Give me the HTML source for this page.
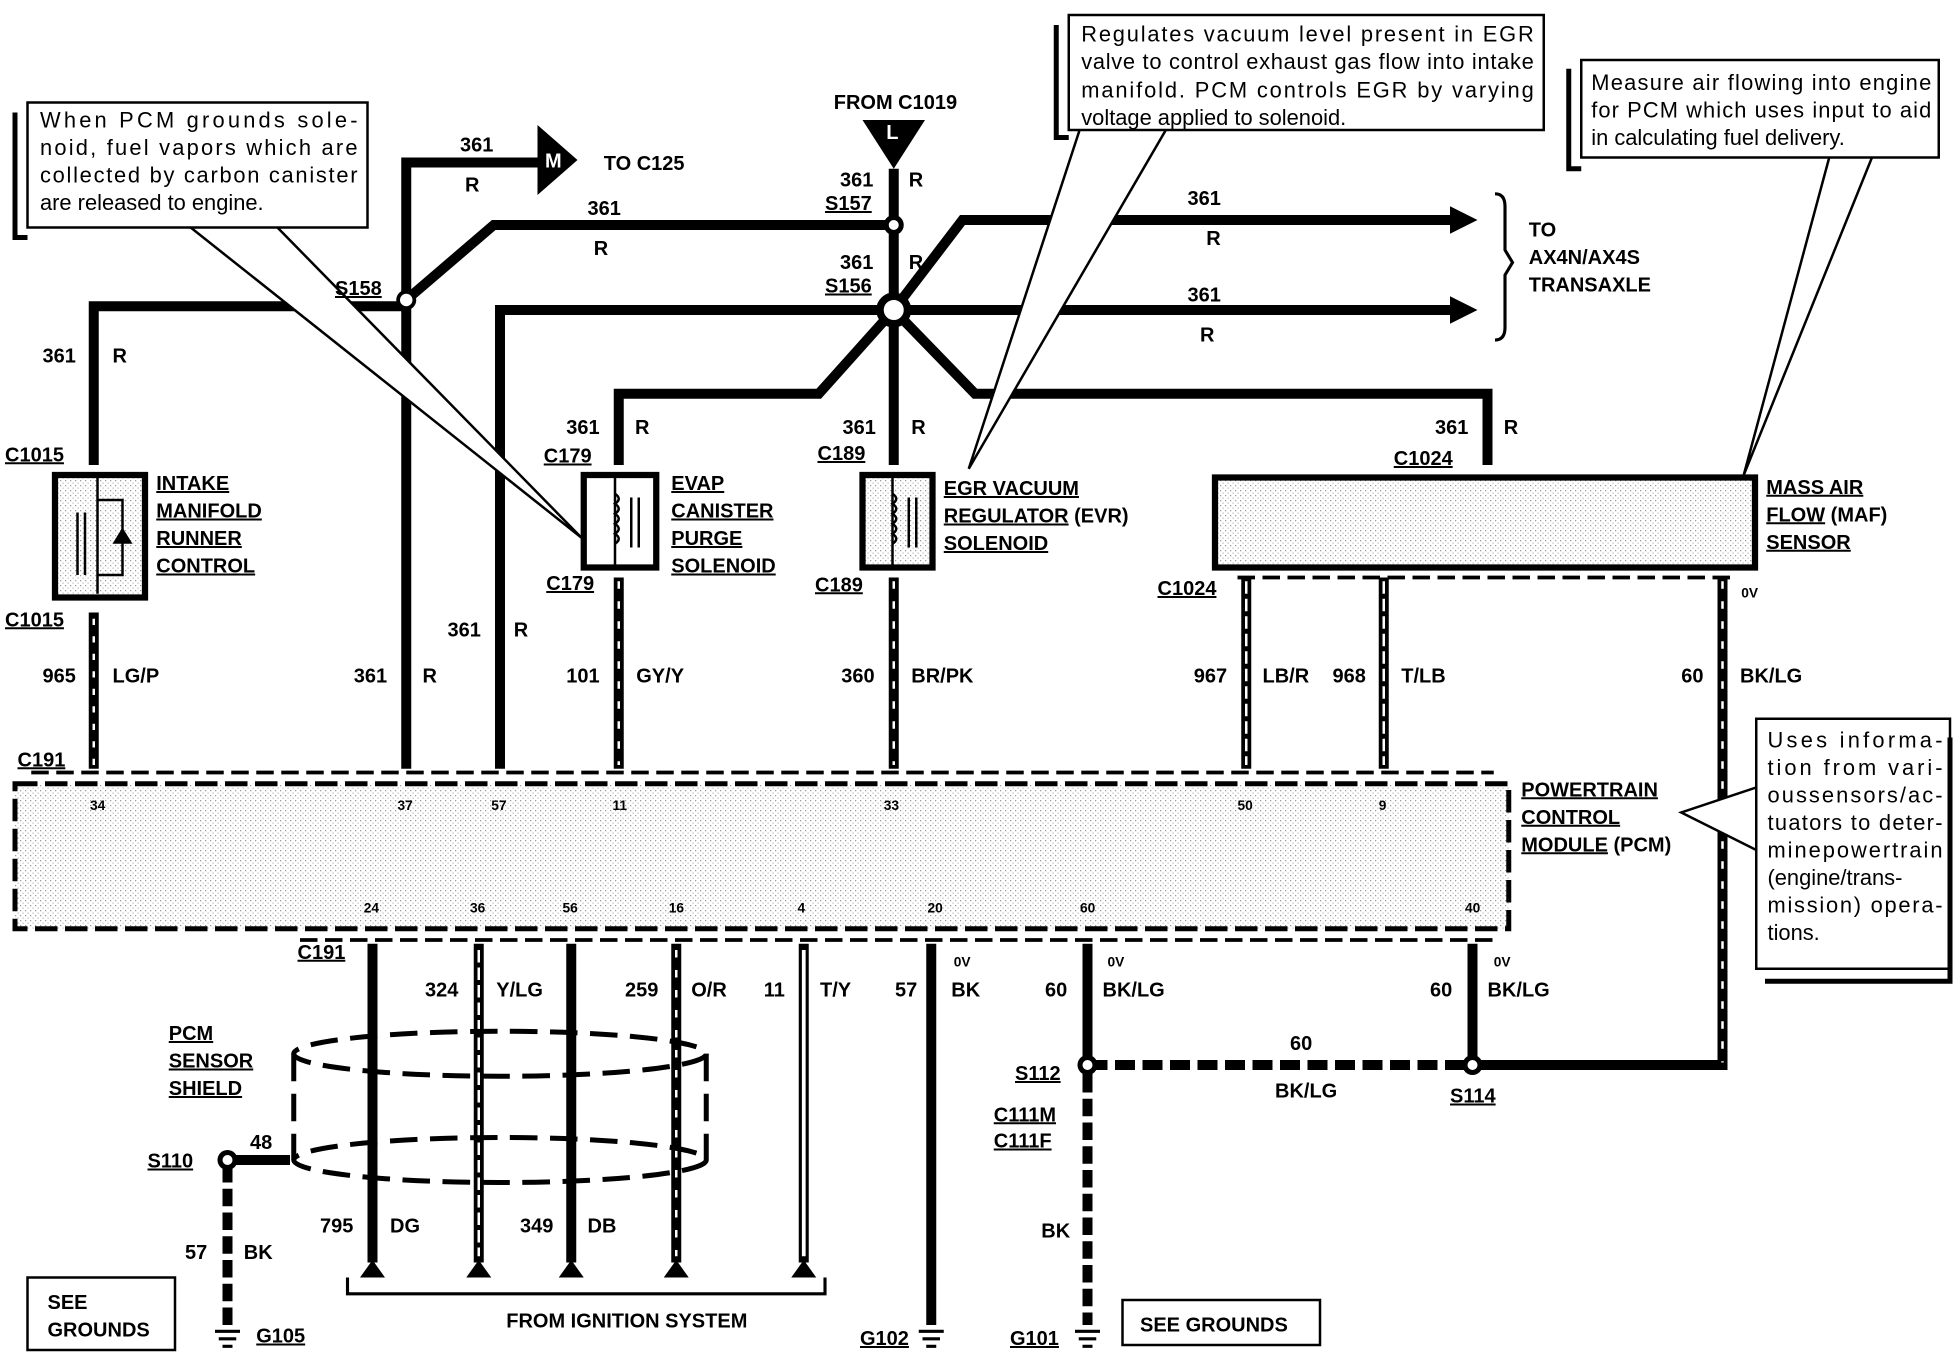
<!DOCTYPE html>
<html><head><style>
html,body{margin:0;padding:0;background:#fff;}
svg{display:block;}
text{font-family:"Liberation Sans",sans-serif;font-weight:bold;font-size:16px;fill:#000;}
.u{text-decoration:underline;}
.n{font-weight:normal;font-size:17.5px;}
.s{font-size:11px;}
</style></head><body>
<svg width="1960" height="1360" viewBox="0 0 1568 1088" xmlns="http://www.w3.org/2000/svg">
<defs>
<pattern id="dots" width="4" height="4" patternUnits="userSpaceOnUse"><rect width="4" height="4" fill="#fff"/><rect width="1" height="1" fill="#999"/><rect x="2" y="2" width="1" height="1" fill="#bbb"/></pattern>
</defs>
<g fill="none" stroke="#000" stroke-width="8">
<path d="M75,372 V245 H325"/>
<path d="M325,615 V130 H435"/>
<path d="M325,240 L395,180 H715"/>
<path d="M715,135 V372"/>
<path d="M715,248 L770,176 H1165"/>
<path d="M715,248 H1165"/>
<path d="M400,615 V248 H715"/>
<path d="M715,248 L655,315 H495 V372"/>
<path d="M715,248 L780,315 H1190 V372"/>
<path d="M75,490 V615 M495,462 V615 M715,462 V615 M997,462 V615 M1107,462 V615"/>
<path d="M1378,462 V852 H1178"/>
<path d="M298,755 V1010 M383,755 V1010 M457,755 V1010 M541,755 V1010 M643,755 V1010 M745,755 V1060 M870,755 V860 M1178,755 V852"/>
<path d="M870,860 V1060" stroke-dasharray="14,5"/>
<path d="M182,932 V1060" stroke-dasharray="14,5"/>
<path d="M182,928 H232"/>
<path d="M870,852 H1178" stroke-dasharray="16,6"/>
</g>
<g stroke="#fff" stroke-width="2">
<path d="M75,495 V612" stroke-dasharray="5,9"/>
<path d="M495,465 V612 M715,465 V612 M1378,465 V850 M541,760 V1005" stroke-dasharray="6,10"/>
<path d="M997,465 V612 M1107,465 V612 M383,760 V1005" stroke-width="2" stroke-dasharray="10,4"/>
<path d="M643,760 V1005" stroke-width="3"/>
</g>
<g fill="#000">
<circle cx="325" cy="240" r="8"/><circle cx="715" cy="180" r="8"/><circle cx="182" cy="928" r="8"/>
<circle cx="870" cy="852" r="8"/><circle cx="1178" cy="852" r="8"/>
<polygon points="1160,165 1182,176 1160,187"/><polygon points="1160,237 1182,248 1160,259"/>
<polygon points="430,100 462,128 430,156"/>
<polygon points="690,96 740,96 715,135"/>
<polygon points="288,1022 308,1022 298,1008"/><polygon points="373,1022 393,1022 383,1008"/><polygon points="447,1022 467,1022 457,1008"/><polygon points="531,1022 551,1022 541,1008"/><polygon points="633,1022 653,1022 643,1008"/>
</g>
<circle cx="715" cy="248" r="11" fill="#fff" stroke="#000" stroke-width="6"/>
<circle cx="325" cy="240" r="5" fill="#fff"/><circle cx="715" cy="180" r="4" fill="#fff"/><circle cx="182" cy="928" r="4" fill="#fff"/><circle cx="870" cy="852" r="4" fill="#fff"/><circle cx="1178" cy="852" r="4" fill="#fff"/>
<text x="436" y="134" style="fill:#fff">M</text><text x="709" y="111" style="fill:#fff">L</text>
<g stroke="#000" stroke-width="2.5">
<path d="M172,1065 H192 M175,1071 H189 M178,1077 H186 M735,1065 H755 M738,1071 H752 M741,1077 H749 M860,1065 H880 M863,1071 H877 M866,1077 H874"/>
</g>
<rect x="44" y="380" width="72" height="98" fill="url(#dots)" stroke="#000" stroke-width="5"/>
<path d="M78,382 V475 M78,400 H98 V460 H78 M62,410 V460 M68,410 V460" stroke="#000" stroke-width="2" fill="none"/>
<polygon points="90,435 106,435 98,422" fill="#000"/>
<rect x="467" y="380" width="58" height="74" fill="#fff" stroke="#000" stroke-width="5"/>
<path d="M492,382 V452 M505,398 V438 M511,398 V438" stroke="#000" stroke-width="2"/>
<path d="M492,395 q6,4 0,8 q6,4 0,8 q6,4 0,8 q6,4 0,8 q6,4 0,8" stroke="#000" stroke-width="2" fill="none"/>
<rect x="690" y="380" width="56" height="74" fill="url(#dots)" stroke="#000" stroke-width="5"/>
<path d="M714,382 V452 M727,398 V438 M733,398 V438" stroke="#000" stroke-width="2"/>
<path d="M714,395 q6,4 0,8 q6,4 0,8 q6,4 0,8 q6,4 0,8 q6,4 0,8" stroke="#000" stroke-width="2" fill="none"/>
<rect x="972" y="382" width="432" height="72" fill="url(#dots)" stroke="#000" stroke-width="5"/>
<rect x="12" y="627" width="1195" height="116" fill="url(#dots)" stroke="#000" stroke-width="4" stroke-dasharray="18,6"/>
<path d="M25,618 H1195 M240,752 H1195 M990,462 H1390" stroke="#000" stroke-width="3" stroke-dasharray="14,6" fill="none"/>
<g fill="none" stroke="#000" stroke-width="4" stroke-dasharray="22,10">
<ellipse cx="400" cy="843" rx="165" ry="18"/><ellipse cx="400" cy="928" rx="165" ry="18"/>
<path d="M235,843 V928 M565,843 V928"/>
</g>
<path d="M278,1022 V1035 H660 V1022 M1196,155 Q1204,155 1204,165 V200 L1210,210 L1204,220 V262 Q1204,272 1196,272" fill="none" stroke="#000" stroke-width="2.5"/>
<g fill="#fff" stroke="#000" stroke-width="2">
<polygon points="150,180 220,180 465,430"/>
<polygon points="865,100 935,100 775,375"/>
<polygon points="1465,120 1500,120 1395,380"/>
<polygon points="1405,630 1405,680 1345,650"/>
<rect x="22" y="82" width="272" height="100"/>
<rect x="855" y="12" width="380" height="92"/>
<rect x="1265" y="48" width="286" height="78"/>
<rect x="1405" y="575" width="155" height="200"/>
<rect x="22" y="1022" width="118" height="58"/>
<rect x="898" y="1040" width="158" height="36"/>
</g>
<path d="M12,90 V190 H22 M845,20 V110 H855 M1255,55 V135 H1265 M1560,590 V785 H1412" stroke="#000" stroke-width="4" fill="none"/>
<text x="32" y="102" class="n" textLength="254">When  PCM  grounds  sole-</text>
<text x="32" y="124" class="n" textLength="254">noid, fuel vapors which are</text>
<text x="32" y="146" class="n" textLength="254">collected by carbon canister</text>
<text x="32" y="168" class="n">are released to engine.</text>
<text x="865" y="33" class="n" textLength="362">Regulates vacuum level present in EGR</text>
<text x="865" y="55" class="n" textLength="362">valve to control exhaust gas flow into intake</text>
<text x="865" y="78" class="n" textLength="362">manifold.  PCM controls EGR by varying</text>
<text x="865" y="100" class="n">voltage applied to solenoid.</text>
<text x="1273" y="72" class="n" textLength="272">Measure air flowing into engine</text>
<text x="1273" y="94" class="n" textLength="272">for PCM which uses input to aid</text>
<text x="1273" y="116" class="n">in calculating fuel delivery.</text>
<text x="1414" y="598" class="n" textLength="140">Uses  informa-</text>
<text x="1414" y="620" class="n" textLength="140">tion  from  vari-</text>
<text x="1414" y="642" class="n" textLength="140">oussensors/ac-</text>
<text x="1414" y="664" class="n" textLength="140">tuators to deter-</text>
<text x="1414" y="686" class="n" textLength="140">minepowertrain</text>
<text x="1414" y="708" class="n">(engine/trans-</text>
<text x="1414" y="730" class="n" textLength="140">mission) opera-</text>
<text x="1414" y="752" class="n">tions.</text>
<text x="38" y="1047">SEE</text><text x="38" y="1069">GROUNDS</text>
<text x="912" y="1065">SEE GROUNDS</text>
<text x="368" y="121">361</text><text x="372" y="153">R</text><text x="483" y="136">TO   C125</text>
<text x="667" y="87">FROM C1019</text>
<text x="672" y="149">361</text><text x="727" y="149">R</text><text x="660" y="168" class="u">S157</text>
<text x="470" y="172">361</text><text x="475" y="204">R</text>
<text x="672" y="215">361</text><text x="727" y="215">R</text><text x="660" y="234" class="u">S156</text>
<text x="268" y="236" class="u">S158</text>
<text x="950" y="164">361</text><text x="965" y="196">R</text>
<text x="950" y="241">361</text><text x="960" y="273">R</text>
<text x="1223" y="189">TO</text><text x="1223" y="211">AX4N/AX4S</text><text x="1223" y="233">TRANSAXLE</text>
<text x="34" y="290">361</text><text x="90" y="290">R</text>
<text x="4" y="369" class="u">C1015</text><text x="4" y="501" class="u">C1015</text>
<text x="125" y="392" class="u">INTAKE</text><text x="125" y="414" class="u">MANIFOLD</text><text x="125" y="436" class="u">RUNNER</text><text x="125" y="458" class="u">CONTROL</text>
<text x="453" y="347">361</text><text x="508" y="347">R</text><text x="435" y="370" class="u">C179</text><text x="437" y="472" class="u">C179</text>
<text x="537" y="392" class="u">EVAP</text><text x="537" y="414" class="u">CANISTER</text><text x="537" y="436" class="u">PURGE</text><text x="537" y="458" class="u">SOLENOID</text>
<text x="674" y="347">361</text><text x="729" y="347">R</text><text x="654" y="368" class="u">C189</text><text x="652" y="473" class="u">C189</text>
<text x="755" y="396" class="u">EGR VACUUM</text><text x="755" y="418"><tspan class="u">REGULATOR</tspan> (EVR)</text><text x="755" y="440" class="u">SOLENOID</text>
<text x="1148" y="347">361</text><text x="1203" y="347">R</text><text x="1115" y="372" class="u">C1024</text><text x="926" y="476" class="u">C1024</text>
<text x="1413" y="395" class="u">MASS AIR</text><text x="1413" y="417"><tspan class="u">FLOW</tspan> (MAF)</text><text x="1413" y="439" class="u">SENSOR</text>
<text x="358" y="509">361</text><text x="411" y="509">R</text>
<text x="34" y="546">965</text><text x="90" y="546">LG/P</text>
<text x="283" y="546">361</text><text x="338" y="546">R</text>
<text x="453" y="546">101</text><text x="509" y="546">GY/Y</text>
<text x="673" y="546">360</text><text x="729" y="546">BR/PK</text>
<text x="955" y="546">967</text><text x="1010" y="546">LB/R</text>
<text x="1066" y="546">968</text><text x="1121" y="546">T/LB</text>
<text x="1345" y="546">60</text><text x="1392" y="546">BK/LG</text>
<text x="1393" y="478" class="s">0V</text>
<text x="14" y="613" class="u">C191</text>
<text x="72" y="648" class="s">34</text><text x="318" y="648" class="s">37</text><text x="393" y="648" class="s">57</text><text x="490" y="648" class="s">11</text><text x="707" y="648" class="s">33</text><text x="990" y="648" class="s">50</text><text x="1103" y="648" class="s">9</text>
<text x="291" y="730" class="s">24</text><text x="376" y="730" class="s">36</text><text x="450" y="730" class="s">56</text><text x="535" y="730" class="s">16</text><text x="638" y="730" class="s">4</text><text x="742" y="730" class="s">20</text><text x="864" y="730" class="s">60</text><text x="1172" y="730" class="s">40</text>
<text x="1217" y="637" class="u">POWERTRAIN</text><text x="1217" y="659" class="u">CONTROL</text><text x="1217" y="681"><tspan class="u">MODULE</tspan> (PCM)</text>
<text x="238" y="767" class="u">C191</text>
<text x="340" y="797">324</text><text x="397" y="797">Y/LG</text>
<text x="500" y="797">259</text><text x="553" y="797">O/R</text>
<text x="611" y="797">11</text><text x="656" y="797">T/Y</text>
<text x="716" y="797">57</text><text x="761" y="797">BK</text>
<text x="836" y="797">60</text><text x="882" y="797">BK/LG</text>
<text x="1144" y="797">60</text><text x="1190" y="797">BK/LG</text>
<text x="763" y="773" class="s">0V</text><text x="886" y="773" class="s">0V</text><text x="1195" y="773" class="s">0V</text>
<text x="1032" y="840">60</text><text x="1020" y="878">BK/LG</text>
<text x="812" y="864" class="u">S112</text><text x="1160" y="882" class="u">S114</text>
<text x="795" y="897" class="u">C111M</text><text x="795" y="918" class="u">C111F</text>
<text x="833" y="990">BK</text>
<text x="135" y="832" class="u">PCM</text><text x="135" y="854" class="u">SENSOR</text><text x="135" y="876" class="u">SHIELD</text>
<text x="118" y="934" class="u">S110</text><text x="200" y="919">48</text>
<text x="148" y="1007">57</text><text x="195" y="1007">BK</text>
<text x="256" y="986">795</text><text x="312" y="986">DG</text>
<text x="416" y="986">349</text><text x="470" y="986">DB</text>
<text x="405" y="1062">FROM IGNITION SYSTEM</text>
<text x="205" y="1074" class="u">G105</text><text x="688" y="1076" class="u">G102</text><text x="808" y="1076" class="u">G101</text>
</svg>
</body></html>
